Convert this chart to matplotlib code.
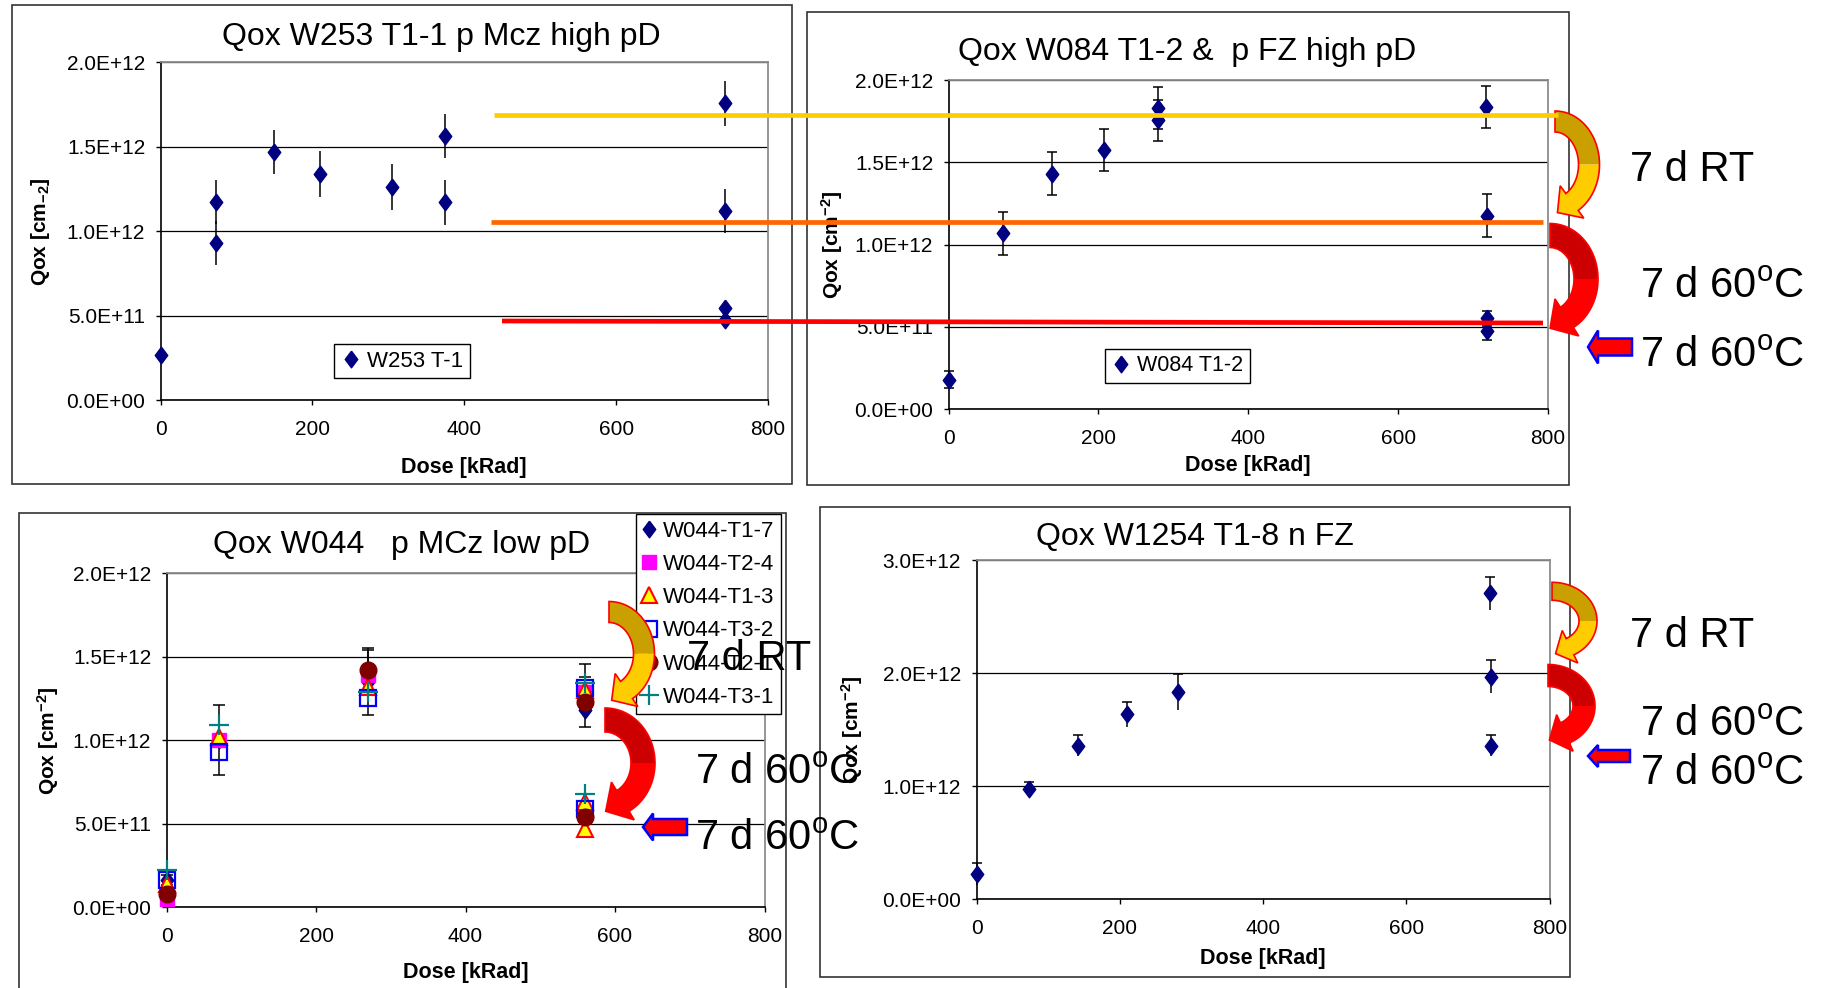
import numpy as np
import matplotlib
matplotlib.use("Agg")
import matplotlib.pyplot as plt
from matplotlib.patches import Polygon, Rectangle
from matplotlib.lines import Line2D
from matplotlib.ticker import FuncFormatter

plt.rcParams['font.family'] = ['Liberation Sans', 'DejaVu Sans']
plt.rcParams['mathtext.fontset'] = 'custom'
plt.rcParams['mathtext.rm'] = 'Liberation Sans'
plt.rcParams['mathtext.it'] = 'Liberation Sans:italic'
plt.rcParams['mathtext.bf'] = 'Liberation Sans:bold'

# ---------------- data (Qox in units of 1E12 cm^-2) ----------------
SCALE = 1e12
titles = ["Qox W253 T1-1 p Mcz high pD", "Qox W084 T1-2 &  p FZ high pD",
          "Qox W044   p MCz low pD", "Qox W1254 T1-8 n FZ"]

dose_w253 = [0, 73, 73, 150, 210, 305, 375, 375, 743, 743, 743, 743]
qox_w253 = [0.27, 1.17, 0.93, 1.47, 1.34, 1.26, 1.565, 1.17, 1.755, 1.12, 0.545, 0.475]
err_w253 = [0, 0.13, 0.13, 0.13, 0.135, 0.135, 0.13, 0.135, 0.135, 0.13, 0, 0]

dose_w084 = [0, 73, 138, 208, 279, 279, 717, 718, 718, 719]
qox_w084 = [0.18, 1.07, 1.43, 1.575, 1.83, 1.755, 1.835, 1.175, 0.553, 0.476]
err_w084 = [0.05, 0.13, 0.13, 0.13, 0.125, 0.125, 0.128, 0.13, 0.045, 0.055]

dose_w1254 = [0, 73, 141, 210, 281, 716, 718, 718]
qox_w1254 = [0.224, 0.976, 1.359, 1.636, 1.836, 2.706, 1.969, 1.359]
err_w1254 = [0.10, 0.065, 0.094, 0.11, 0.16, 0.147, 0.144, 0.094]

dose_w044 = [0, 70, 270, 560, 560]
qox_t1_7 = [0.16, 1.00, 1.35, 1.18, 0.58]
err_t1_7 = [0.03, 0.21, 0.20, 0.0, 0.0]
qox_t2_4 = [0.05, 1.00, 1.39, 1.29, 0.56]
dose_t1_3 = [0, 70, 270, 560, 560, 560]
qox_t1_3 = [0.14, 1.02, 1.32, 1.30, 0.63, 0.47]
qox_t3_2 = [0.16, 0.93, 1.25, 1.31, 0.59]
dose_t2_1 = [0, 270, 560, 560]
qox_t2_1 = [0.08, 1.42, 1.23, 0.54]
err_t2_1 = [0.0, 0.12, 0.15, 0.0]
qox_t3_1 = [0.22, 1.09, 1.29, 1.34, 0.68]
err_t3_1 = [0.0, 0.0, 0.0, 0.115, 0.0]

legend_w253 = "W253 T-1"
legend_w084 = "W084 T1-2"
legend_w044 = ["W044-T1-7", "W044-T2-4", "W044-T1-3", "W044-T3-2", "W044-T2-1", "W044-T3-1"]
x_ticks = [0, 200, 400, 600, 800]
ann_rt = "7 d RT"
ann_60 = r"7 d 60$^{\mathrm{o}}$C"

# ---------------- figure ----------------
W, H = 1825, 988
fig = plt.figure(figsize=(W / 100, H / 100), dpi=100)
fig.patch.set_facecolor('white')


def P(x, y):
    return (x / W, 1 - y / H)


def add_ax(l, t, r, b):
    return fig.add_axes([l / W, 1 - b / H, (r - l) / W, (b - t) / H])


NAVY = '#000080'
DIAMOND = [(0, 1), (0.75, 0), (0, -1), (-0.75, 0), (0, 1)]
fmt = FuncFormatter(lambda v, p: f'{v:.1E}')


def style(ax, ymax, ystep, box):
    ax.set_xlim(0, 800)
    ax.set_xticks(x_ticks)
    ax.set_ylim(0, ymax * SCALE)
    ax.set_yticks(np.arange(0, ymax + 1e-9, ystep) * SCALE)
    ax.yaxis.set_major_formatter(fmt)
    ax.tick_params(direction='out', length=3.6, width=1, labelsize=15,
                   top=False, right=False, colors='black')
    ax.tick_params(axis='x', pad=10.5)
    ax.tick_params(axis='y', pad=7.5)
    for s in ['left', 'bottom']:
        ax.spines[s].set_color('black')
        ax.spines[s].set_linewidth(1.2)
    for s in ['top', 'right']:
        ax.spines[s].set_color('#8c8c8c')
        ax.spines[s].set_linewidth(1.3)
    ax.yaxis.grid(True, color='black', lw=0.9)
    ax.set_axisbelow(True)
    ax.set_facecolor('white')
    ax.set_xlabel('Dose [kRad]', fontsize=15.5, fontweight='bold', va='center')


def set_label_pos(ax, box, ylab_x, xlab_y):
    l, t, r, b = box
    ax.yaxis.set_label_coords((ylab_x - l) / (r - l), 0.5)
    ax.xaxis.set_label_coords(0.5, (b - xlab_y) / (b - t))


def frame(l, t, r, b):
    fig.add_artist(Rectangle(P(l, b), (r - l) / W, (b - t) / H, transform=fig.transFigure,
                             fill=False, edgecolor='#333333', lw=1.2, zorder=0.5))


def leg_box(ax, handles, labels, x, y, fs, **kw):
    lg = ax.legend(handles, labels, loc='upper left', bbox_to_anchor=P(x, y),
                   bbox_transform=fig.transFigure, borderaxespad=0, fancybox=False,
                   edgecolor='black', fontsize=fs, numpoints=1, framealpha=1, **kw)
    lg.get_frame().set_linewidth(1.0)
    return lg


# frames
frame(11.6, 5.5, 791.5, 484)
frame(806.5, 11.7, 1568.5, 484.5)
frame(18.5, 513, 786, 1000)
frame(820, 507.5, 1570, 977)

# ---- panel 1 ----
box1 = (160.6, 62, 768, 400.5)
ax1 = add_ax(*box1)
style(ax1, 2.0, 0.5, box1)
y1 = np.array(qox_w253) * SCALE
ax1.errorbar(dose_w253, y1, yerr=np.array(err_w253) * SCALE, fmt='none', ecolor='black',
             elinewidth=1.1, capsize=0, clip_on=False, zorder=2)
h1, = ax1.plot(dose_w253, y1, ls='none', marker=DIAMOND, ms=12, color=NAVY, clip_on=False, zorder=3)
ax1.set_ylabel(r'Qox [cm$_{\mathbf{-2}}$]', fontsize=15, fontweight='bold', va='center')
set_label_pos(ax1, box1, 41, 467)
leg_box(ax1, [h1], [legend_w253], 334, 344, 16, handlelength=0.9, handletextpad=0.3,
        borderpad=0.3)
fig.text(441 / W, 1 - 45 / H, titles[0], fontsize=23, ha='center', va='baseline')

# ---- panel 2 ----
box2 = (948.6, 80, 1548, 409.3)
ax2 = add_ax(*box2)
style(ax2, 2.0, 0.5, box2)
y2 = np.array(qox_w084) * SCALE
ax2.errorbar(dose_w084, y2, yerr=np.array(err_w084) * SCALE, fmt='none', ecolor='black',
             elinewidth=1.1, capsize=3.6, capthick=1.1, clip_on=False, zorder=2)
h2, = ax2.plot(dose_w084, y2, ls='none', marker=DIAMOND, ms=12, color=NAVY, clip_on=False, zorder=3)
ax2.set_ylabel(r'Qox [cm$^{\mathbf{-2}}$]', fontsize=15, fontweight='bold', va='center')
set_label_pos(ax2, box2, 832, 466)
leg_box(ax2, [h2], [legend_w084], 1105, 349, 15.5, handlelength=0.9, handletextpad=0.3,
        borderpad=0.3)
fig.text(1187 / W, 1 - 60 / H, titles[1], fontsize=23, ha='center', va='baseline')

# ---- panel 3 ----
box3 = (166.6, 573.3, 764.5, 907)
ax3 = add_ax(*box3)
style(ax3, 2.0, 0.5, box3)
ax3.errorbar(dose_w044, np.array(qox_t1_7) * SCALE, yerr=np.array(err_t1_7) * SCALE, fmt='none',
             ecolor='black', elinewidth=1.1, capsize=4, capthick=1.1, clip_on=False, zorder=2)
ax3.errorbar(dose_t2_1, np.array(qox_t2_1) * SCALE, yerr=np.array(err_t2_1) * SCALE, fmt='none',
             ecolor='black', elinewidth=1.1, capsize=4, capthick=1.1, clip_on=False, zorder=2)
ax3.errorbar(dose_w044, np.array(qox_t3_1) * SCALE, yerr=np.array(err_t3_1) * SCALE, fmt='none',
             ecolor='black', elinewidth=1.1, capsize=4, capthick=1.1, clip_on=False, zorder=2)
hs = []
hs.append(ax3.plot(dose_w044, np.array(qox_t1_7) * SCALE, ls='none', marker=DIAMOND, ms=12,
                   color=NAVY, clip_on=False, zorder=3)[0])
hs.append(ax3.plot(dose_w044, np.array(qox_t2_4) * SCALE, ls='none', marker='s', ms=10,
                   color='#FF00FF', clip_on=False, zorder=3)[0])
hs.append(ax3.plot(dose_t1_3, np.array(qox_t1_3) * SCALE, ls='none', marker='^', ms=11,
                   mfc='#FFFF00', mec='#FF0000', mew=1.5, clip_on=False, zorder=3)[0])
hs.append(ax3.plot(dose_w044, np.array(qox_t3_2) * SCALE, ls='none', marker='s', ms=11,
                   mfc='none', mec='#0000FF', mew=1.6, clip_on=False, zorder=3)[0])
hs.append(ax3.plot(dose_t2_1, np.array(qox_t2_1) * SCALE, ls='none', marker='o', ms=12,
                   color='#800000', clip_on=False, zorder=3)[0])
hs.append(ax3.plot(dose_w044, np.array(qox_t3_1) * SCALE, ls='none', marker='+', ms=14,
                   mew=1.6, color='#008080', clip_on=False, zorder=3)[0])
ax3.set_ylabel(r'Qox [cm$^{\mathbf{-2}}$]', fontsize=15, fontweight='bold', va='center')
set_label_pos(ax3, box3, 48, 972)
leg_box(ax3, hs, legend_w044, 636, 514, 16, handlelength=0.6, handletextpad=0.3,
        borderpad=0.3, labelspacing=0.55)
fig.text(402 / W, 1 - 552.7 / H, titles[2], fontsize=23, ha='center', va='baseline')

# ---- panel 4 ----
box4 = (976.5, 560, 1549.7, 899.3)
ax4 = add_ax(*box4)
style(ax4, 3.0, 1.0, box4)
y4 = np.array(qox_w1254) * SCALE
e4 = np.array(err_w1254) * SCALE
z4 = np.zeros_like(e4)
ax4.errorbar(dose_w1254, y4, yerr=[z4, e4], fmt='none', ecolor='black', elinewidth=1.1,
             capsize=3.6, capthick=1.1, clip_on=False, zorder=2)
ax4.errorbar(dose_w1254, y4, yerr=[e4, z4], fmt='none', ecolor='black', elinewidth=1.1,
             capsize=0, clip_on=False, zorder=2)
ax4.plot(dose_w1254, y4, ls='none', marker=DIAMOND, ms=12, color=NAVY, clip_on=False, zorder=3)
ax4.set_ylabel(r'Qox [cm$^{\mathbf{-2}}$]', fontsize=15, fontweight='bold', va='center')
set_label_pos(ax4, box4, 852, 958)
fig.text(1195 / W, 1 - 545 / H, titles[3], fontsize=23, ha='center', va='baseline')


# ---------------- annotations ----------------
def curved_arrow(cx, cy, rx, ry, w, hw, hl, t_end, light, dark, edge):
    def band(ts):
        t = np.radians(ts)
        px_ = cx + rx * np.cos(t)
        py_ = cy - ry * np.sin(t)
        nx = np.cos(t) / rx
        ny = -np.sin(t) / ry
        nr = np.hypot(nx, ny)
        nx, ny = nx / nr, ny / nr
        outer = np.column_stack([px_ + nx * w / 2, py_ + ny * w / 2])
        inner = np.column_stack([px_ - nx * w / 2, py_ - ny * w / 2])
        return outer, inner, px_, py_, nx, ny
    o1, i1, *_ = band(np.linspace(90, 0, 40))
    o2, i2, px_, py_, nx, ny = band(np.linspace(0, t_end, 40))
    te = np.radians(t_end)
    u = np.array([rx * np.sin(te), ry * np.cos(te)])
    u = u / np.hypot(*u)
    E = np.array([px_[-1], py_[-1]])
    n = np.array([nx[-1], ny[-1]])
    head = np.array([E + n * hw, E + u * hl, E - n * hw])
    upper = np.vstack([o1, i1[::-1]])
    lower = np.vstack([o2, head, i2[::-1]])
    full = np.vstack([o1, o2, head, i2[::-1], i1[::-1]])

    def tofig(a):
        return np.column_stack([a[:, 0] / W, 1 - a[:, 1] / H])
    fig.add_artist(Polygon(tofig(upper), closed=True, transform=fig.transFigure,
                           facecolor=dark, edgecolor='none', zorder=5))
    fig.add_artist(Polygon(tofig(lower), closed=True, transform=fig.transFigure,
                           facecolor=light, edgecolor='none', zorder=5))
    fig.add_artist(Polygon(tofig(full), closed=True, transform=fig.transFigure,
                           fill=False, edgecolor=edge, lw=1.2, zorder=5.1))


def block_arrow(xt, yc, xb, xr, hh, bh):
    v = np.array([(xt, yc), (xb, yc - hh), (xb, yc - bh), (xr, yc - bh),
                  (xr, yc + bh), (xb, yc + bh), (xb, yc + hh)])
    v = np.column_stack([v[:, 0] / W, 1 - v[:, 1] / H])
    fig.add_artist(Polygon(v, closed=True, transform=fig.transFigure, facecolor='#FF0000',
                           edgecolor='#0000FF', lw=1.8, zorder=5))


GOLD_L, GOLD_D = '#FFCC00', '#C9A000'
RED_L, RED_D = '#FF0000', '#CC0000'

# top right group
curved_arrow(1555, 164.6, 34, 43.1, 21, 20, 18, -60, GOLD_L, GOLD_D, '#FF0000')
curved_arrow(1550, 279, 36, 43.5, 24, 22, 20, -62, RED_L, RED_D, '#FF0000')
block_arrow(1588, 347, 1598, 1632, 16.5, 8.5)
fig.text(1630 / W, 1 - 181 / H, ann_rt, fontsize=30, va='baseline', zorder=6)
fig.text(1640 / W, 1 - 298 / H, ann_60, fontsize=30, va='baseline', zorder=6)
fig.text(1640 / W, 1 - 366.5 / H, ann_60, fontsize=30, va='baseline', zorder=6)

# bottom right group
curved_arrow(1552, 621, 36, 29.7, 18, 18, 16, -60, GOLD_L, GOLD_D, '#FF0000')
curved_arrow(1548, 706, 36, 30.5, 22, 20, 17, -62, RED_L, RED_D, '#FF0000')
block_arrow(1588, 756, 1598, 1630, 11, 6)
fig.text(1630 / W, 1 - 647 / H, ann_rt, fontsize=30, va='baseline', zorder=6)
fig.text(1640 / W, 1 - 735.5 / H, ann_60, fontsize=30, va='baseline', zorder=6)
fig.text(1640 / W, 1 - 784.5 / H, ann_60, fontsize=30, va='baseline', zorder=6)

# bottom left group
curved_arrow(609, 653.8, 35, 41.8, 21, 20, 18, -60, GOLD_L, GOLD_D, '#FF0000')
curved_arrow(605, 763, 38, 43, 24, 22, 20, -62, RED_L, RED_D, '#FF0000')
block_arrow(643, 827, 653, 687, 13.5, 8)
fig.text(687 / W, 1 - 670 / H, ann_rt, fontsize=30, va='baseline', zorder=6)
fig.text(695 / W, 1 - 784 / H, ann_60, fontsize=30, va='baseline', zorder=6)
fig.text(695 / W, 1 - 849.5 / H, ann_60, fontsize=30, va='baseline', zorder=6)

# connecting level lines across the two upper panels
for (xa, ya, xb_, yb, c) in [(494, 115, 1558, 115, '#FFCC00'),
                             (491, 222.5, 1543, 222.5, '#FF6600'),
                             (502, 321, 1543, 323, '#FF0000')]:
    fig.add_artist(Line2D([xa / W, xb_ / W], [1 - ya / H, 1 - yb / H], transform=fig.transFigure,
                          color=c, lw=3.4, solid_capstyle='butt', zorder=6))

fig.savefig('out.png', dpi=100, facecolor='white')
